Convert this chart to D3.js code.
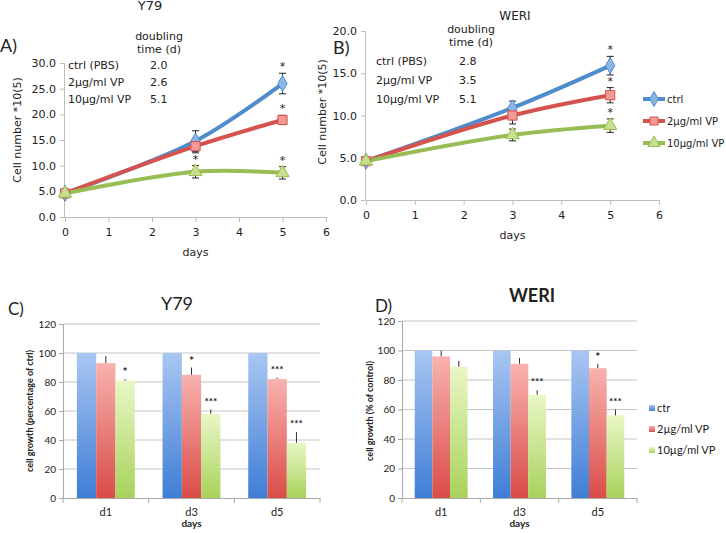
<!DOCTYPE html>
<html><head><meta charset="utf-8">
<script src="https://cdn.jsdelivr.net/npm/d3@7"></script>
<style>
html,body{margin:0;padding:0;background:#fff;}
svg{display:block;}
.v{font-family:"DejaVu Sans",Verdana,sans-serif;}
.c{font-family:"Lato","Liberation Sans",sans-serif;}
</style></head>
<body>
<svg id="chart" width="726" height="533"></svg>
<script>
// ---------------- DATA ----------------
const days = [0, 3, 5];
const lineSeries = ["ctrl", "2µg/ml VP", "10µg/ml VP"];
// Y79 cell number *10(5)
const y79Ctrl = [4.6, 14.8, 26.0];
const y79CtrlErr = [0.3, 2.0, 2.0];
const y79Low = [4.6, 13.8, 18.9];
const y79LowErr = [0.3, 1.3, 0.9];
const y79High = [4.6, 8.8, 8.6];
const y79HighErr = [0.3, 1.2, 1.2];
const y79Stars = [["", "", "*"], ["", "", "*"], ["", "*", "*"]];
// WERI cell number *10(5)
const weriCtrl = [4.6, 10.9, 15.9];
const weriCtrlErr = [0.3, 0.8, 1.1];
const weriLow = [4.6, 10.0, 12.4];
const weriLowErr = [0.3, 1.0, 0.9];
const weriHigh = [4.6, 7.7, 8.8];
const weriHighErr = [0.3, 0.7, 0.8];
const weriStars = [["", "", "*"], ["", "", "*"], ["", "", "*"]];
// doubling times
const doublingLabels = ["ctrl (PBS)", "2µg/ml VP", "10µg/ml VP"];
const y79Doubling = ["2.0", "2.6", "5.1"];
const weriDoubling = ["2.8", "3.5", "5.1"];
const y79YTicks = [0, 5, 10, 15, 20, 25, 30];
const weriYTicks = [0, 5, 10, 15, 20];
const dayTicks = [0, 1, 2, 3, 4, 5, 6];
// bar charts (% of control)
const barCats = ["d1", "d3", "d5"];
const barSeries = ["ctr", "2µg/ml VP", "10µg/ml VP"];
const y79BarCtrl = [100, 100, 100];
const y79Bar2 = [93, 85, 82];
const y79Bar2Err = [5, 5, 1];
const y79Bar10 = [81, 58, 38];
const y79Bar10Err = [1, 3, 7.5];
const y79Bar2Sig = ["", "*", "***"];
const y79Bar10Sig = ["*", "***", "***"];
const weriBarCtrl = [100, 100, 100];
const weriBar2 = [96, 91, 88];
const weriBar2Err = [4, 4, 3];
const weriBar10 = [89, 70, 56];
const weriBar10Err = [4, 3, 4];
const weriBar2Sig = ["", "", "*"];
const weriBar10Sig = ["", "***", "***"];
const barYTicks = [0, 20, 40, 60, 80, 100, 120];

// ---------------- STYLE ----------------
const lineCol = ["#4F8CCB", "#D4534F", "#98BD55"];
const markFill = ["#8DB6E6", "#F19A96", "#C6E08E"];
const gradTop = ["#A9C6F2", "#F8B2AE", "#E9F7C6"];
const gradBot = ["#3F7ED6", "#DA4C48", "#A8D25A"];

const svg = d3.select("#chart");
const defs = svg.append("defs");
gradTop.forEach((t, i) => {
  const g = defs.append("linearGradient").attr("id", "g" + i)
    .attr("x1", 0).attr("y1", 0).attr("x2", 0).attr("y2", 1);
  g.append("stop").attr("offset", "0%").attr("stop-color", t);
  g.append("stop").attr("offset", "100%").attr("stop-color", gradBot[i]);
});

function text(x, y, s, opts = {}) {
  const t = svg.append("text").attr("x", x).attr("y", y).text(s)
    .attr("class", opts.cls || "v")
    .attr("font-size", opts.size || 11)
    .attr("fill", opts.fill || "#222")
    .attr("text-anchor", opts.anchor || "start");
  if (opts.bold) t.attr("font-weight", "bold");
  if (opts.rotate) t.attr("transform", `rotate(-90,${x},${y})`);
  return t;
}

// ---------------- LINE PANELS ----------------
function linePanel(cfg) {
  const x = d3.scaleLinear().domain([0, 6]).range(cfg.xr);
  const y = d3.scaleLinear().domain([0, cfg.ymax]).range(cfg.yr);
  const g = svg.append("g");
  // axes
  const yAxis = g.append("g").attr("transform", `translate(${cfg.xr[0] - 1},0)`)
    .call(d3.axisLeft(y).tickValues(cfg.yticks).tickFormat(d3.format(".1f")).tickSize(4).tickPadding(4));
  const xAxis = g.append("g").attr("transform", `translate(0,${cfg.yr[0]})`)
    .call(d3.axisBottom(x).tickValues(dayTicks).tickFormat(d3.format("d")).tickSize(5).tickPadding(6));
  [xAxis, yAxis].forEach(a => {
    a.select(".domain").attr("stroke", "#BDBDBD");
    a.selectAll(".tick line").attr("stroke", "#BDBDBD");
    a.selectAll("text").attr("class", "v").attr("font-size", 11).attr("fill", "#222").attr("font-family", null);
  });
  const line = d3.line().x((d, i) => x(days[i])).y(d => y(d)).curve(d3.curveCatmullRom.alpha(0.5));
  cfg.vals.forEach((v, s) => {
    g.append("path").datum(v).attr("d", line).attr("fill", "none")
      .attr("stroke", lineCol[s]).attr("stroke-width", 4).attr("stroke-linecap", "round");
  });
  // error bars
  cfg.vals.forEach((v, s) => {
    v.forEach((d, i) => {
      const e = cfg.errs[s][i];
      const cx = x(days[i]);
      g.append("line").attr("x1", cx).attr("x2", cx).attr("y1", y(d - e)).attr("y2", y(d + e))
        .attr("stroke", "#222").attr("stroke-width", 1);
      [d - e, d + e].forEach(q => g.append("line").attr("x1", cx - 3.5).attr("x2", cx + 3.5)
        .attr("y1", y(q)).attr("y2", y(q)).attr("stroke", "#222").attr("stroke-width", 1));
    });
  });
  // markers
  const sym = [d3.symbolDiamond, d3.symbolSquare, d3.symbolTriangle];
  const sz = [75, 85, 75];
  cfg.vals.forEach((v, s) => {
    v.forEach((d, i) => {
      g.append("path").attr("d", d3.symbol(sym[s], sz[s])())
        .attr("transform", `translate(${x(days[i])},${y(d)})`)
        .attr("fill", markFill[s]).attr("stroke", lineCol[s]).attr("stroke-width", 1);
    });
  });
  // stars
  cfg.vals.forEach((v, s) => {
    v.forEach((d, i) => {
      const st = cfg.stars[s][i];
      if (st) text(x(days[i]), y(d + cfg.errs[s][i]) - 3, st, { size: 11, anchor: "middle" });
    });
  });
  // doubling table
  text(cfg.dx, cfg.dy0, "doubling", { anchor: "middle" });
  text(cfg.dx, cfg.dy0 + 13, "time (d)", { anchor: "middle" });
  doublingLabels.forEach((l, i) => {
    text(cfg.lx, cfg.ly0 + i * cfg.lstep, l);
    text(cfg.vx, cfg.ly0 + i * cfg.lstep, cfg.doubling[i]);
  });
  text(cfg.ylabX, cfg.ylabY, "Cell number *10(5)", { anchor: "middle", rotate: true });
  text(x(3), cfg.yr[0] + 39, "days", { anchor: "middle" });
}

linePanel({
  xr: [65, 326], yr: [217, 63], ymax: 30, yticks: y79YTicks,
  vals: [y79Ctrl, y79Low, y79High], errs: [y79CtrlErr, y79LowErr, y79HighErr], stars: y79Stars,
  doubling: y79Doubling, dx: 159, dy0: 40, lx: 68, vx: 150, ly0: 69, lstep: 17,
  ylabX: 21, ylabY: 130
});
linePanel({
  xr: [366, 659], yr: [200, 31], ymax: 20, yticks: weriYTicks,
  vals: [weriCtrl, weriLow, weriHigh], errs: [weriCtrlErr, weriLowErr, weriHighErr], stars: weriStars,
  doubling: weriDoubling, dx: 471, dy0: 33, lx: 376, vx: 459, ly0: 65, lstep: 19,
  ylabX: 326, ylabY: 112
});
text(150, 10, "Y79", { size: 13, anchor: "middle" });
text(515, 20, "WERI", { size: 12, anchor: "middle" });
text(0, 52, "A)", { cls: "c", size: 18 });
text(333, 54, "B)", { cls: "c", size: 18 });

// top legend
const tsym = [d3.symbolDiamond, d3.symbolSquare, d3.symbolTriangle];
lineSeries.forEach((s, i) => {
  const ly = 99 + i * 22;
  svg.append("line").attr("x1", 643).attr("x2", 665).attr("y1", ly).attr("y2", ly)
    .attr("stroke", lineCol[i]).attr("stroke-width", 4);
  svg.append("path").attr("d", d3.symbol(tsym[i], 65)()).attr("transform", `translate(654,${ly})`)
    .attr("fill", markFill[i]).attr("stroke", lineCol[i]);
  text(667, ly + 4, s, { size: 10 });
});

// ---------------- BAR PANELS ----------------
function barPanel(cfg) {
  const x = d3.scaleBand().domain(barCats).range(cfg.xr).paddingInner(0).paddingOuter(0);
  const xs = d3.scaleBand().domain(barSeries).range([0, x.bandwidth()]).paddingInner(0).paddingOuter(0.72);
  const y = d3.scaleLinear().domain([0, 120]).range(cfg.yr);
  const g = svg.append("g");
  // gridlines
  g.selectAll(".grid").data(barYTicks.filter(d => d > 0)).join("line")
    .attr("x1", cfg.xr[0]).attr("x2", cfg.xr[1]).attr("y1", d => y(d)).attr("y2", d => y(d))
    .attr("stroke", "#C4C4C4").attr("stroke-width", 1);
  const yAxis = g.append("g").attr("transform", `translate(${cfg.xr[0]},0)`)
    .call(d3.axisLeft(y).tickValues(barYTicks).tickSize(4).tickPadding(3));
  yAxis.select(".domain").attr("stroke", "#A8A8A8");
  yAxis.selectAll(".tick line").attr("stroke", "#A8A8A8");
  yAxis.selectAll("text").attr("font-family", null).attr("class", "c").attr("font-size", 10).attr("fill", "#222");
  // bars
  cfg.vals.forEach((v, s) => {
    g.selectAll(".b" + s).data(v).join("rect")
      .attr("x", (d, i) => x(barCats[i]) + xs(barSeries[s]))
      .attr("width", xs.bandwidth())
      .attr("y", d => y(d)).attr("height", d => y(0) - y(d))
      .attr("fill", `url(#g${s})`);
  });
  // x axis
  const xAxis = g.append("g").attr("transform", `translate(0,${cfg.yr[0]})`)
    .call(d3.axisBottom(x).tickSize(0).tickPadding(10));
  xAxis.select(".domain").attr("stroke", "#A8A8A8");
  xAxis.selectAll("text").attr("font-family", null).attr("class", "c").attr("font-size", 11).attr("fill", "#222");
  const bounds = barCats.map(c => x(c)).concat([cfg.xr[1]]);
  g.selectAll(".xt").data(bounds).join("line")
    .attr("x1", d => d).attr("x2", d => d).attr("y1", cfg.yr[0]).attr("y2", cfg.yr[0] + 5)
    .attr("stroke", "#A8A8A8");
  // error bars + sig
  cfg.errs.forEach((e, k) => {
    const s = k + 1;
    e.forEach((er, i) => {
      const cx = x(barCats[i]) + xs(barSeries[s]) + xs.bandwidth() / 2;
      const v = cfg.vals[s][i];
      g.append("line").attr("x1", cx).attr("x2", cx).attr("y1", y(v)).attr("y2", y(v + er))
        .attr("stroke", "#333").attr("stroke-width", 1);
      const sig = cfg.sigs[k][i];
      if (sig) text(cx, y(v + er) - (sig === "*" ? 3 : 5), sig, { cls: "c", size: sig === "*" ? 12 : 10, anchor: "middle", bold: true });
    });
  });
  text((cfg.xr[0] + cfg.xr[1]) / 2, cfg.yr[0] + 29, "days", { cls: "c", size: 10, anchor: "middle", bold: true });
  text(cfg.ylabX, 411, cfg.ylab, { cls: "c", size: 9, anchor: "middle", bold: true, rotate: true });
}

barPanel({
  xr: [63, 320], yr: [498, 324],
  vals: [y79BarCtrl, y79Bar2, y79Bar10], errs: [y79Bar2Err, y79Bar10Err], sigs: [y79Bar2Sig, y79Bar10Sig],
  ylab: "cell growth (percentage of ctrl)", ylabX: 33
});
barPanel({
  xr: [402, 637], yr: [498, 321],
  vals: [weriBarCtrl, weriBar2, weriBar10], errs: [weriBar2Err, weriBar10Err], sigs: [weriBar2Sig, weriBar10Sig],
  ylab: "cell growth (% of control)", ylabX: 373
});
text(177, 310, "Y79", { cls: "c", size: 18, anchor: "middle" });
text(532, 302, "WERI", { cls: "c", size: 18, anchor: "middle", bold: true });
text(8, 315, "C)", { cls: "c", size: 17 });
text(375, 312, "D)", { cls: "c", size: 17 });

// bottom legend
barSeries.forEach((s, i) => {
  const ly = 408 + i * 21;
  svg.append("rect").attr("x", 649).attr("y", ly - 3).attr("width", 6).attr("height", 6).attr("fill", `url(#g${i})`);
  text(657, ly + 4, s, { cls: "c", size: 11 });
});
</script>
</body></html>
